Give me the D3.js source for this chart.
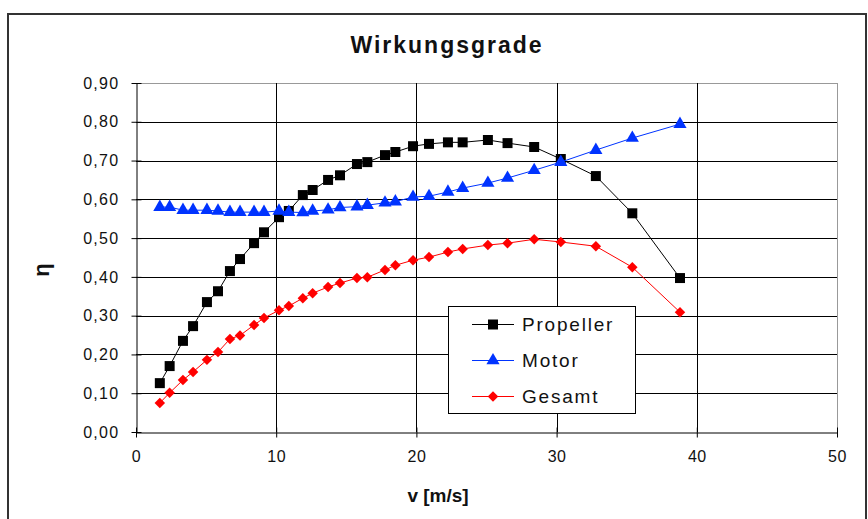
<!DOCTYPE html>
<html><head><meta charset="utf-8">
<script src="https://cdn.jsdelivr.net/npm/d3@7"></script>
<style>
html,body{margin:0;padding:0;background:#fff;}
svg{display:block;}
text{font-family:"Liberation Sans",Arial,sans-serif;fill:#111;}
</style></head>
<body><svg id="c" width="868" height="519"></svg>
<script>
const v = [1.7,2.4,3.35,4.07,5.06,5.85,6.7,7.42,8.42,9.13,10.2,10.9,11.9,12.6,13.7,14.55,15.76,16.5,17.76,18.5,19.76,20.9,22.25,23.3,25.1,26.5,28.4,30.3,32.8,35.4,38.8];
const propeller = [0.126,0.170,0.235,0.273,0.335,0.363,0.415,0.446,0.487,0.515,0.554,0.570,0.611,0.624,0.650,0.662,0.691,0.696,0.714,0.722,0.737,0.743,0.747,0.747,0.753,0.745,0.735,0.704,0.660,0.564,0.397];
const motor = [0.580,0.580,0.572,0.572,0.572,0.570,0.567,0.567,0.567,0.567,0.570,0.567,0.566,0.570,0.573,0.579,0.581,0.585,0.591,0.594,0.606,0.608,0.619,0.629,0.642,0.655,0.675,0.696,0.727,0.758,0.794];
const gesamt = [0.075,0.101,0.134,0.155,0.186,0.206,0.240,0.249,0.276,0.294,0.314,0.325,0.345,0.358,0.374,0.384,0.397,0.399,0.418,0.430,0.443,0.451,0.464,0.472,0.482,0.487,0.497,0.490,0.479,0.425,0.309];
const seriesNames = ["Propeller","Motor","Gesamt"];
const seriesColors = ["#000000","#0033ff","#ff0000"];
const xTicks = [0,10,20,30,40,50];
const yTicks = [0,0.1,0.2,0.3,0.4,0.5,0.6,0.7,0.8,0.9];
const title = "Wirkungsgrade";
const xLabel = "v [m/s]";
const yLabel = "\u03b7";

const svg = d3.select("#c");
const x = d3.scaleLinear().domain([0,50]).range([136,837]);
const y = d3.scaleLinear().domain([0,0.9]).range([432,83]);
const loc = d3.formatLocale({decimal:",",thousands:".",grouping:[3],currency:["","€"]});
const fy = loc.format(".2f");

// outer frame
svg.append("rect").attr("x",8).attr("y",14).attr("width",858).attr("height",520)
  .attr("fill","#fff").attr("stroke","#333").attr("stroke-width",2);

// gridlines
const g = svg.append("g");
g.selectAll(".hg").data(yTicks.slice(1)).enter().append("line")
  .attr("x1",x(0)).attr("x2",x(50)).attr("y1",d=>Math.round(y(d))+0.5).attr("y2",d=>Math.round(y(d))+0.5)
  .attr("stroke",(d,i)=>i===yTicks.length-2?"#999":"#000").attr("stroke-width",1);
g.selectAll(".vg").data(xTicks.slice(1)).enter().append("line")
  .attr("x1",d=>Math.round(x(d))+0.5).attr("x2",d=>Math.round(x(d))+0.5).attr("y1",y(0.9)).attr("y2",y(0))
  .attr("stroke",(d,i)=>i===xTicks.length-2?"#999":"#000").attr("stroke-width",1);

// axes
const ax = d3.axisBottom(x).tickValues(xTicks).tickSize(5).tickPadding(13).tickSizeOuter(0);
const axG = svg.append("g").attr("transform",`translate(0,${Math.round(y(0))+0.5})`).call(ax);
axG.selectAll(".tick line").attr("y1",-5).attr("stroke","#000");
axG.select(".domain").attr("stroke","#000");
axG.selectAll("text").attr("font-size",16).attr("fill","#222").style("letter-spacing","0.5px");

const ay = d3.axisLeft(y).tickValues(yTicks).tickFormat(fy).tickSize(5).tickPadding(12).tickSizeOuter(0);
const ayG = svg.append("g").attr("transform",`translate(${Math.round(x(0))+0.5},0)`).call(ay);
ayG.selectAll(".tick line").attr("x1",5).attr("stroke","#000");
ayG.select(".domain").attr("stroke","#000");
ayG.selectAll("text").attr("font-size",16).attr("fill","#222").style("letter-spacing","1.3px");

// series
const data = [propeller,motor,gesamt];
const line = d3.line().x((d,i)=>x(v[i])).y(d=>y(d));
const sym = [d3.symbol().type(d3.symbolSquare).size(100),
             d3.symbol().type(d3.symbolTriangle).size(75),
             d3.symbol().type(d3.symbolSquare).size(55)];
const rot = [0,0,45];
data.forEach((vals,k)=>{
  svg.append("path").datum(vals).attr("d",line).attr("fill","none")
    .attr("stroke",seriesColors[k]).attr("stroke-width",1);
  svg.append("g").selectAll("path").data(vals).enter().append("path")
    .attr("d",sym[k]).attr("fill",seriesColors[k])
    .attr("transform",(d,i)=>`translate(${x(v[i])},${y(d)}) rotate(${rot[k]})`);
});

// title & labels
svg.append("text").attr("x",447).attr("y",53).attr("text-anchor","middle")
  .attr("font-size",23).attr("font-weight","bold").style("letter-spacing","2px").text(title);
svg.append("text").attr("x",438).attr("y",502).attr("text-anchor","middle")
  .attr("font-size",19).attr("font-weight","bold").text(xLabel);
svg.append("text").attr("transform","translate(49,270) rotate(-90)").attr("text-anchor","middle")
  .attr("font-size",22).attr("font-weight","bold").text(yLabel);

// legend
const lg = svg.append("g");
lg.append("rect").attr("x",448.5).attr("y",306.5).attr("width",187).attr("height",107)
  .attr("fill","#fff").attr("stroke","#000").attr("stroke-width",1);
seriesNames.forEach((n,k)=>{
  const ly = 324 + k*36;
  lg.append("line").attr("x1",472).attr("x2",514).attr("y1",ly+0.5).attr("y2",ly+0.5)
    .attr("stroke",seriesColors[k]).attr("stroke-width",1);
  lg.append("path").attr("d",sym[k]).attr("fill",seriesColors[k])
    .attr("transform",`translate(493,${ly+0.5}) rotate(${rot[k]})`);
  lg.append("text").attr("x",522).attr("y",ly+7).attr("font-size",19)
    .style("letter-spacing","1.8px").attr("fill","#111").text(n);
});
</script></body></html>
